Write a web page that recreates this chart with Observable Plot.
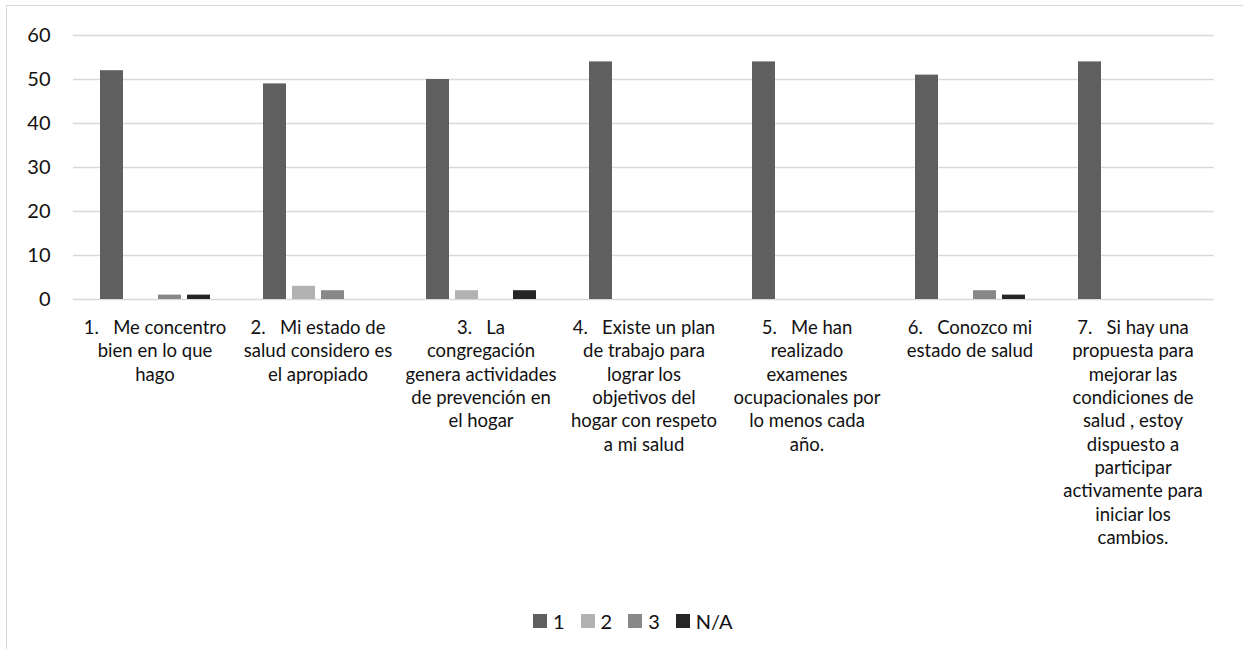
<!DOCTYPE html>
<html>
<head>
<meta charset="utf-8">
<script src="https://cdn.jsdelivr.net/npm/d3@7"></script>
<script src="https://cdn.jsdelivr.net/npm/@observablehq/plot@0.6"></script>
<style>
  body { margin: 0; background: #fff; font-family: Lato, "Liberation Sans", Arial, sans-serif; overflow: hidden; }
  #frame { position: absolute; left: 6px; top: 5px; width: 1260px; height: 700px; border: 1px solid #d9d9d9; box-sizing: border-box; }
  #legend { position: absolute; left: 526px; top: 603px; display: flex; font-size: 20px; color: #111; }
  #legend span.item { display: flex; align-items: center; margin-right: 16px; }
  #legend span.sw { width: 14px; height: 14px; display: inline-block; margin-right: 6px; }
</style>
</head>
<body>
<div id="frame"><div id="chart"></div><div id="legend"></div></div>
<script>
const categories = [
  "1.   Me concentro\nbien en lo que\nhago",
  "2.   Mi estado de\nsalud considero es\nel apropiado",
  "3.   La\ncongregación\ngenera actividades\nde prevención en\nel hogar",
  "4.   Existe un plan\nde trabajo para\nlograr los\nobjetivos del\nhogar con respeto\na mi salud",
  "5.   Me han\nrealizado\nexamenes\nocupacionales por\nlo menos cada\naño.",
  "6.   Conozco mi\nestado de salud",
  "7.   Si hay una\npropuesta para\nmejorar las\ncondiciones de\nsalud , estoy\ndispuesto a\nparticipar\nactivamente para\niniciar los\ncambios."
];
const seriesNames = ["1", "2", "3", "N/A"];
const values1 = [52, 49, 50, 54, 54, 51, 54];
const values2 = [0, 3, 2, 0, 0, 0, 0];
const values3 = [1, 2, 0, 0, 0, 2, 0];
const valuesNA = [1, 0, 2, 0, 0, 1, 0];
const colors = ["#5f5f5f", "#b2b2b2", "#888888", "#262626"];
const yTicks = [0, 10, 20, 30, 40, 50, 60];

const allSeries = [values1, values2, values3, valuesNA];
const data = [];
categories.forEach((c, i) => {
  seriesNames.forEach((s, j) => {
    data.push({cat: c, series: s, value: allSeries[j][i]});
  });
});

const chart = Plot.plot({
  width: 1224,
  height: 595,
  marginLeft: 64,
  marginRight: 16,
  marginTop: 29,
  marginBottom: 302,
  style: {fontFamily: "Lato, Liberation Sans, Arial, sans-serif", color: "#111", background: "#fff"},
  fx: {domain: categories, padding: 0, label: null},
  x: {domain: seriesNames, paddingInner: 0.22, paddingOuter: 0.88, axis: null},
  y: {domain: [0, 60], label: null},
  color: {domain: seriesNames, range: colors},
  marks: [
    Plot.ruleY(yTicks, {stroke: "#d9d9d9", strokeWidth: 1.3}),
    Plot.axisY({ticks: yTicks, tickSize: 0, tickPadding: 23, fontSize: 20, label: null}),
    Plot.axisFx({anchor: "bottom", tickSize: 0, tickPadding: 18, fontSize: 18.5, lineHeight: 1.26, label: null}),
    Plot.barY(data.filter(d => d.value > 0), {fx: "cat", x: "series", y: "value", fill: "series"})
  ]
});
document.getElementById("chart").appendChild(chart);

const legend = document.getElementById("legend");
seriesNames.forEach((s, j) => {
  const item = document.createElement("span");
  item.className = "item";
  const sw = document.createElement("span");
  sw.className = "sw";
  sw.style.background = colors[j];
  item.appendChild(sw);
  item.appendChild(document.createTextNode(s));
  legend.appendChild(item);
});
</script>
</body>
</html>
